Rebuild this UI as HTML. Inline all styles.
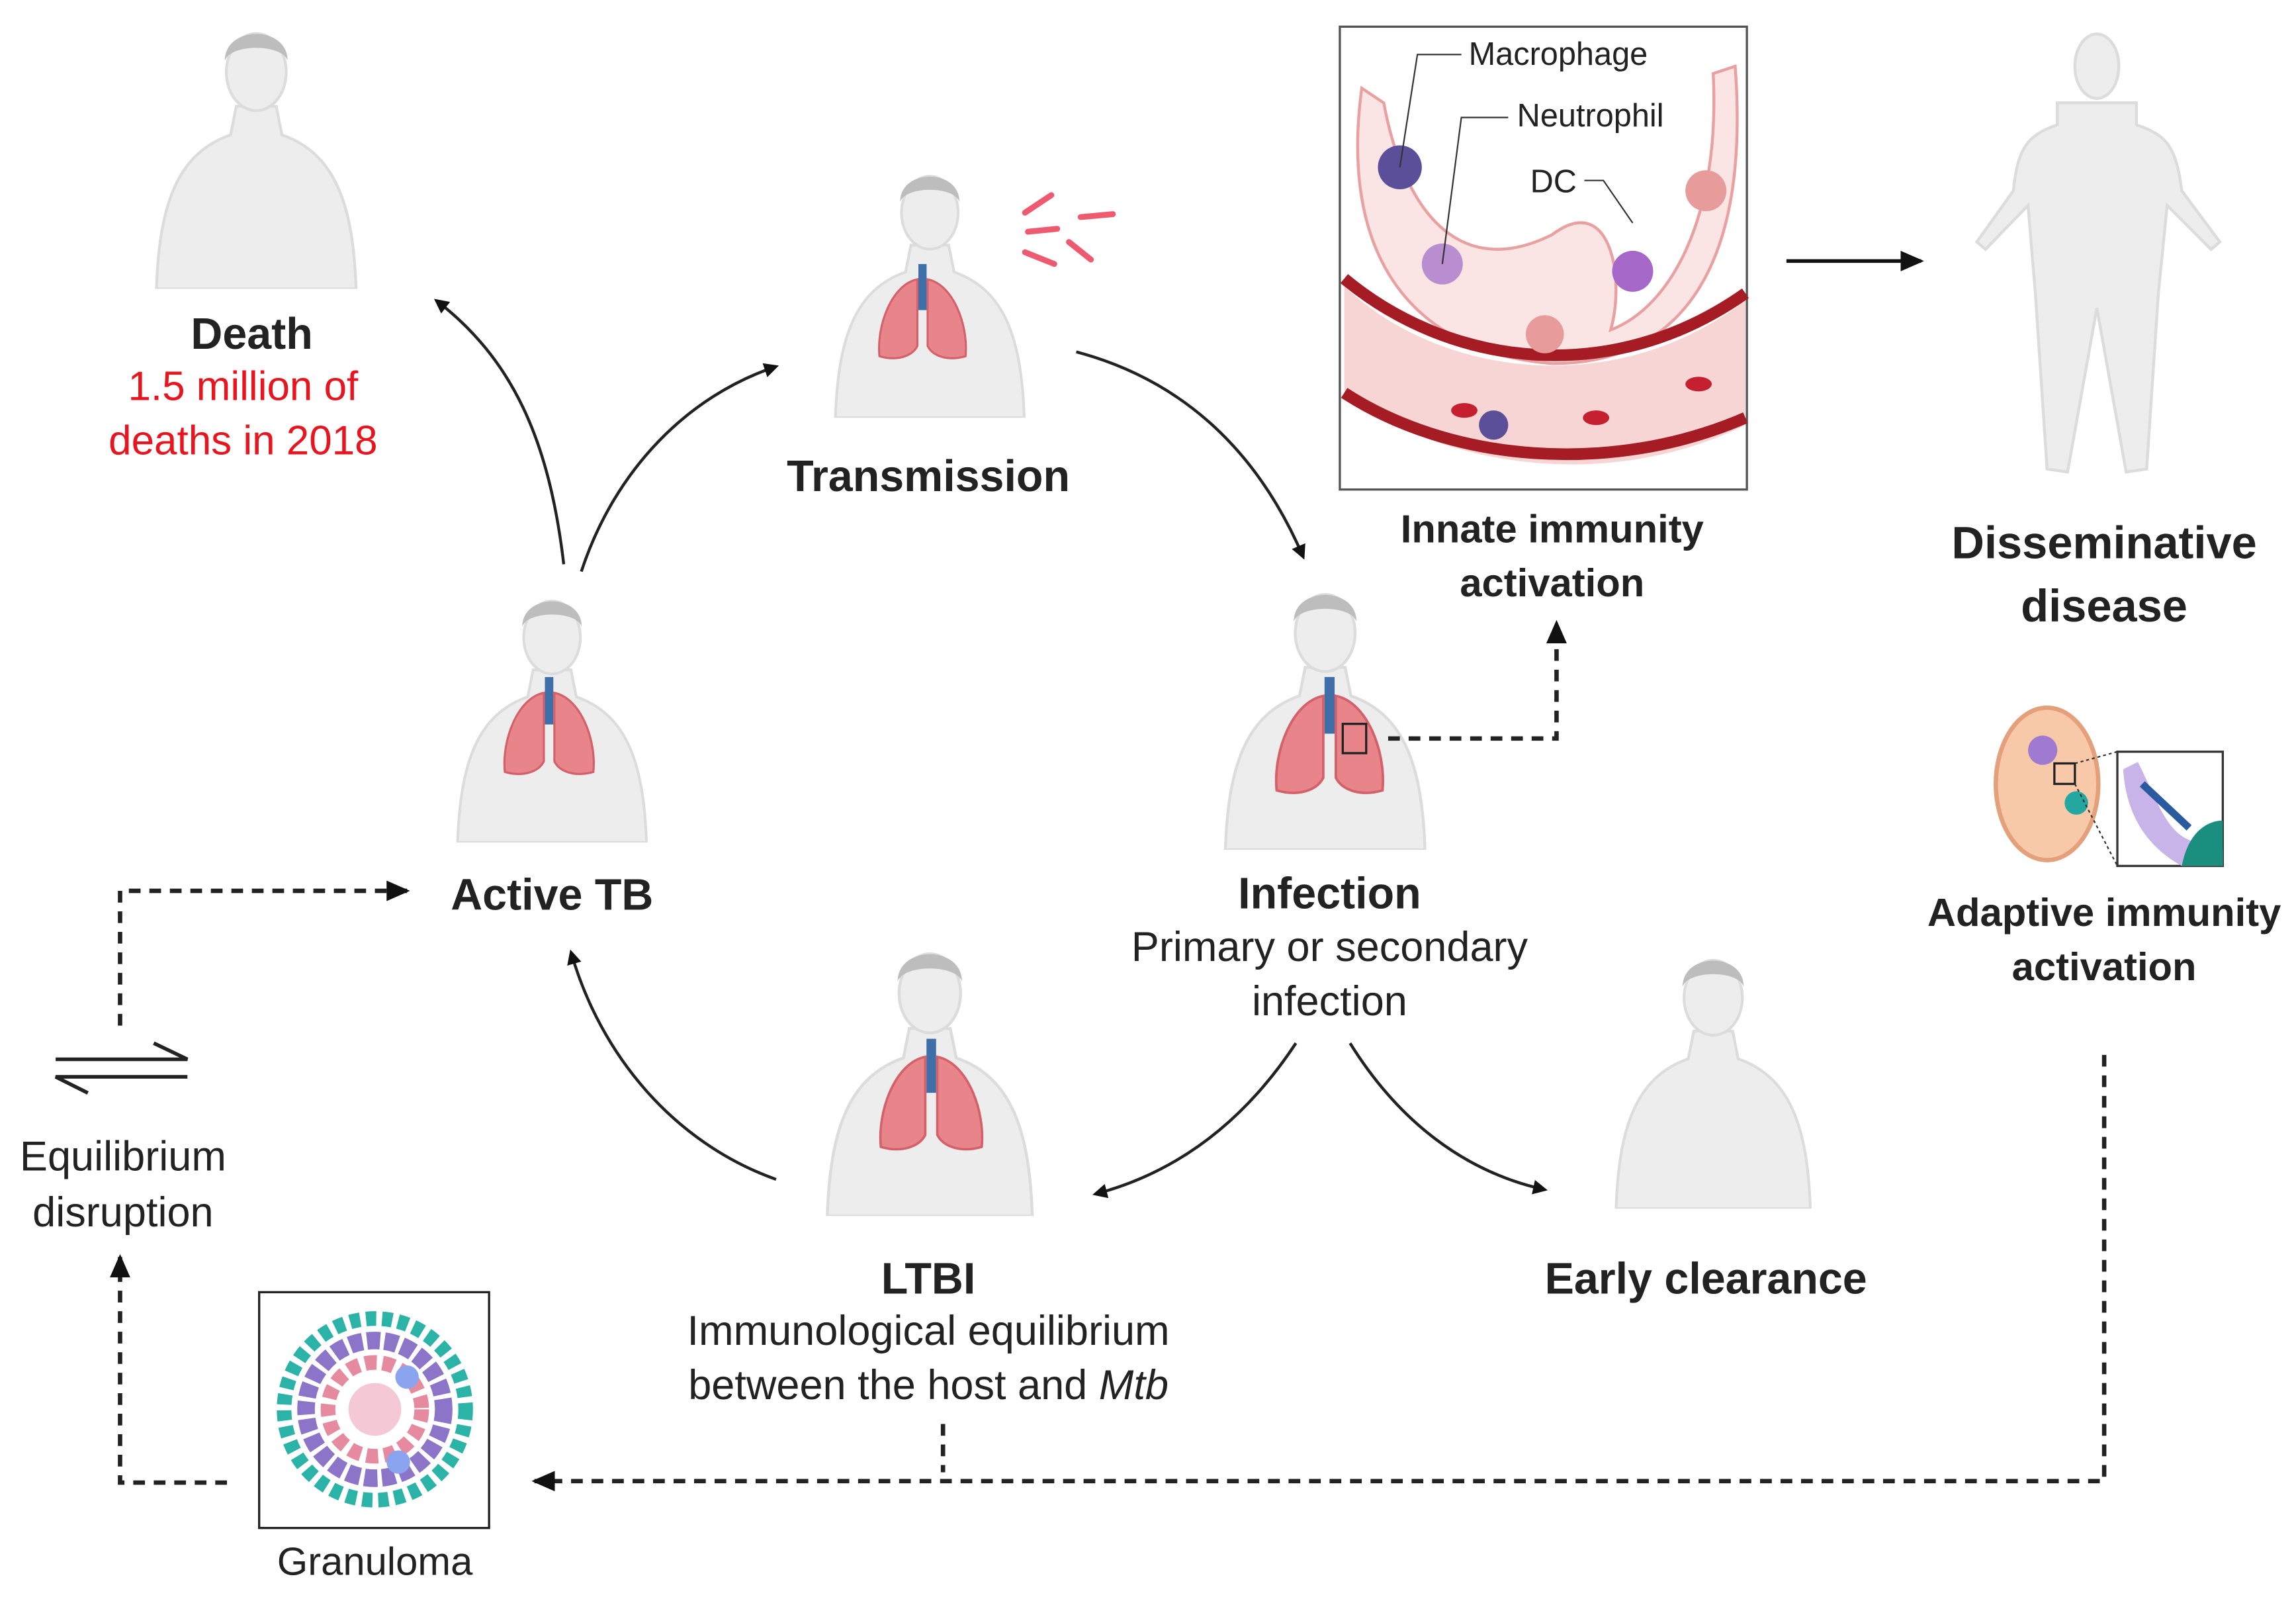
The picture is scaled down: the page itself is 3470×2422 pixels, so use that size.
<!DOCTYPE html>
<html><head><meta charset="utf-8"><style>html,body{margin:0;padding:0;background:#fff}svg{display:block}</style></head><body>
<svg width="3470" height="2422" viewBox="0 0 1568 1094" xmlns="http://www.w3.org/2000/svg" font-family="Liberation Sans, sans-serif">
<defs>
<marker id="ah" markerWidth="10" markerHeight="10" refX="8" refY="5" orient="auto" markerUnits="userSpaceOnUse"><path d="M0,0 L10,5 L0,10 Z" fill="#111"/></marker>
<marker id="ah2" markerWidth="16" markerHeight="14" refX="14" refY="7" orient="auto" markerUnits="userSpaceOnUse"><path d="M0,0 L16,7 L0,14 Z" fill="#111"/></marker>
<symbol id="torso" viewBox="0 0 160 190">
<path d="M10,190 C12,130 25,95 62,82 L66,62 L94,62 L98,82 C135,95 148,130 150,190 Z" fill="#ededed" stroke="#dcdcdc" stroke-width="2"/>
<ellipse cx="80" cy="38" rx="21" ry="27" fill="#ededed" stroke="#dcdcdc" stroke-width="2"/>
<path d="M58,30 C58,5 102,5 102,30 C98,18 62,18 58,30Z" fill="#bdbdbd"/>
</symbol>
<symbol id="lungs" viewBox="0 0 100 100">
<path d="M45,15 C20,20 5,60 8,90 C25,95 40,90 45,80 Z" fill="#e8858a" stroke="#d4606a" stroke-width="2"/>
<path d="M55,15 C80,20 95,60 92,90 C75,95 60,90 55,80 Z" fill="#e8858a" stroke="#d4606a" stroke-width="2"/>
<rect x="46" y="0" width="8" height="45" fill="#3f6fa8"/>
</symbol>
</defs>
<rect width="1568" height="1094" fill="#fff"/>

<!-- Death -->
<use href="#torso" x="95" y="12" width="160" height="185"/>
<text x="172" y="238" font-size="30" font-weight="bold" text-anchor="middle" fill="#222">Death</text>
<text x="166" y="273" font-size="28" text-anchor="middle" fill="#e8141e">1.5 million of</text>
<text x="166" y="310" font-size="28" text-anchor="middle" fill="#e8141e">deaths in 2018</text>

<!-- Transmission -->
<use href="#torso" x="555" y="110" width="160" height="175"/>
<use href="#lungs" x="590" y="180" width="80" height="70"/>
<g stroke="#ee5a70" stroke-width="4" stroke-linecap="round">
<line x1="700" y1="145" x2="718" y2="133"/><line x1="702" y1="158" x2="722" y2="156"/><line x1="738" y1="148" x2="760" y2="146"/><line x1="700" y1="172" x2="720" y2="180"/><line x1="730" y1="165" x2="745" y2="177"/></g>
<text x="634" y="335" font-size="30" font-weight="bold" text-anchor="middle" fill="#222">Transmission</text>

<!-- Innate box -->
<rect x="915" y="18" width="278" height="316" fill="#fff" stroke="#555" stroke-width="1.5"/>
<path d="M930,60 C915,170 960,240 1060,248 C1150,248 1195,180 1185,45 L1170,50 C1175,150 1140,210 1100,225 C1110,190 1100,130 1060,160 C1000,190 960,150 945,70 Z" fill="#fbe4e4" stroke="#e8a0a0" stroke-width="2"/>
<path d="M918,195 C980,255 1100,275 1192,205 L1192,290 C1100,335 990,320 918,270 Z" fill="#f7d5d5"/>
<path d="M918,190 C990,250 1100,265 1192,200" fill="none" stroke="#a51c24" stroke-width="8"/>
<path d="M918,268 C990,315 1100,325 1192,285" fill="none" stroke="#a51c24" stroke-width="8"/>
<circle cx="956" cy="114" r="15" fill="#5b4f9a"/><circle cx="985" cy="180" r="14" fill="#b98ed1"/><circle cx="1115" cy="185" r="14" fill="#a568c8"/><circle cx="1165" cy="130" r="14" fill="#e79b9b"/><circle cx="1055" cy="228" r="13" fill="#e79b9b"/>
<ellipse cx="1000" cy="280" rx="9" ry="5" fill="#c42030"/><ellipse cx="1090" cy="285" rx="9" ry="5" fill="#c42030"/><ellipse cx="1160" cy="262" rx="9" ry="5" fill="#c42030"/><circle cx="1020" cy="290" r="10" fill="#5b4f9a"/>
<g stroke="#333" stroke-width="1" fill="none"><path d="M956,114 L968,37 L998,37"/><path d="M985,180 L998,80 L1030,80"/><path d="M1082,123 L1095,123 L1115,152"/></g>
<g font-size="22" fill="#222"><text x="1003" y="44">Macrophage</text><text x="1036" y="86">Neutrophil</text><text x="1045" y="131">DC</text></g>
<text x="1060" y="370" font-size="27" font-weight="bold" text-anchor="middle" fill="#222">Innate immunity</text>
<text x="1060" y="407" font-size="27" font-weight="bold" text-anchor="middle" fill="#222">activation</text>
<line x1="1220" y1="178" x2="1312" y2="178" stroke="#111" stroke-width="2.5" marker-end="url(#ah2)"/>

<!-- Disseminative -->
<g fill="#ededed" stroke="#dcdcdc" stroke-width="2">
<path d="M1405,70 L1405,85 C1385,92 1378,100 1375,130 L1350,165 L1356,170 L1385,140 L1390,200 L1398,320 L1412,322 L1432,210 L1452,322 L1466,320 L1474,200 L1480,140 L1510,170 L1516,165 L1490,130 C1486,100 1480,92 1459,85 L1459,70 Z"/>
<ellipse cx="1432" cy="45" rx="15" ry="22"/></g>
<text x="1437" y="381" font-size="31" font-weight="bold" text-anchor="middle" fill="#222">Disseminative</text>
<text x="1437" y="424" font-size="31" font-weight="bold" text-anchor="middle" fill="#222">disease</text>

<!-- Adaptive -->
<ellipse cx="1398" cy="535" rx="35" ry="52" fill="#f8c9a8" stroke="#e3a07a" stroke-width="3"/>
<circle cx="1395" cy="512" r="10" fill="#a07ad0"/><circle cx="1418" cy="548" r="8" fill="#24a7a0"/>
<rect x="1403" y="521" width="14" height="14" fill="none" stroke="#222" stroke-width="1.5"/>
<rect x="1446" y="513" width="72" height="78" fill="#fff" stroke="#333" stroke-width="1.5"/>
<path d="M1460,520 C1475,550 1480,570 1500,575 L1518,580 L1518,591 L1490,591 C1470,580 1452,560 1450,525Z" fill="#c8b4e8"/>
<path d="M1490,591 C1495,565 1510,560 1518,560 L1518,591Z" fill="#1a8f80"/>
<line x1="1463" y1="535" x2="1495" y2="565" stroke="#2a5aa0" stroke-width="5"/>
<line x1="1417" y1="521" x2="1446" y2="513" stroke="#333" stroke-dasharray="2,2"/><line x1="1417" y1="535" x2="1446" y2="591" stroke="#333" stroke-dasharray="2,2"/>
<text x="1437" y="632" font-size="27" font-weight="bold" text-anchor="middle" fill="#222">Adaptive immunity</text>
<text x="1437" y="669" font-size="27" font-weight="bold" text-anchor="middle" fill="#222">activation</text>

<!-- Active TB -->
<use href="#torso" x="297" y="400" width="160" height="175"/>
<use href="#lungs" x="335" y="462" width="80" height="72"/>
<text x="377" y="621" font-size="30" font-weight="bold" text-anchor="middle" fill="#222">Active TB</text>

<!-- Infection -->
<use href="#torso" x="825" y="395" width="160" height="185"/>
<use href="#lungs" x="865" y="455" width="86" height="100"/>
<rect x="917" y="494" width="16" height="20" fill="none" stroke="#222" stroke-width="1.5"/>
<text x="908" y="620" font-size="30" font-weight="bold" text-anchor="middle" fill="#222">Infection</text>
<text x="908" y="656" font-size="28.5" text-anchor="middle" fill="#222">Primary or secondary</text>
<text x="908" y="693" font-size="28.5" text-anchor="middle" fill="#222">infection</text>

<!-- LTBI -->
<use href="#torso" x="555" y="640" width="160" height="190"/>
<use href="#lungs" x="595" y="700" width="82" height="100"/>
<text x="634" y="883" font-size="30" font-weight="bold" text-anchor="middle" fill="#222">LTBI</text>
<text x="634" y="918" font-size="28.5" text-anchor="middle" fill="#222">Immunological equilibrium</text>
<text x="634" y="955" font-size="28.5" text-anchor="middle" fill="#222">between the host and <tspan font-style="italic">Mtb</tspan></text>

<!-- Early clearance -->
<use href="#torso" x="1090" y="645" width="160" height="180"/>
<text x="1165" y="883" font-size="30" font-weight="bold" text-anchor="middle" fill="#222">Early clearance</text>

<!-- Equilibrium -->
<path d="M38,723 L128,723 L105,712" fill="none" stroke="#222" stroke-width="2.5"/>
<path d="M128,735 L38,735 L60,746" fill="none" stroke="#222" stroke-width="2.5"/>
<text x="84" y="799" font-size="28.5" text-anchor="middle" fill="#222">Equilibrium</text>
<text x="84" y="837" font-size="28.5" text-anchor="middle" fill="#222">disruption</text>

<!-- Granuloma -->
<rect x="177" y="882" width="157" height="161" fill="#fff" stroke="#222" stroke-width="1.5"/>
<circle cx="256" cy="962" r="62" fill="none" stroke="#2bb3a8" stroke-width="10" stroke-dasharray="7,4"/>
<circle cx="256" cy="962" r="47" fill="none" stroke="#8c74c8" stroke-width="12" stroke-dasharray="9,3"/>
<circle cx="256" cy="962" r="32" fill="none" stroke="#e68aa0" stroke-width="10" stroke-dasharray="8,4"/>
<circle cx="256" cy="962" r="18" fill="#f4c8d4"/>
<circle cx="272" cy="998" r="8" fill="#8aa4f0"/><circle cx="278" cy="940" r="8" fill="#8aa4f0"/>
<text x="256" y="1075" font-size="27" text-anchor="middle" fill="#222">Granuloma</text>

<!-- solid curved arrows -->
<g fill="none" stroke="#222" stroke-width="2">
<path d="M397,390 C420,320 470,270 530,250" marker-end="url(#ah)"/>
<path d="M385,385 C375,300 350,245 298,205" marker-end="url(#ah)"/>
<path d="M735,240 C810,260 860,310 890,380" marker-end="url(#ah)"/>
<path d="M885,712 C850,765 805,800 748,815" marker-end="url(#ah)"/>
<path d="M922,712 C955,765 1000,800 1055,812" marker-end="url(#ah)"/>
<path d="M530,805 C460,780 410,720 390,650" marker-end="url(#ah)"/>
</g>
<!-- dashed -->
<g fill="none" stroke="#222" stroke-width="3" stroke-dasharray="8,6">
<path d="M948,504 L1063,504 L1063,425" marker-end="url(#ah2)"/>
<path d="M1437,720 L1437,1011 L365,1011" marker-end="url(#ah2)"/>
<path d="M644,972 L644,1005"/>
<path d="M155,1012 L82,1012 L82,858" marker-end="url(#ah2)"/>
<path d="M82,700 L82,608 L278,608" marker-end="url(#ah2)"/>
</g>
</svg>
</body></html>
